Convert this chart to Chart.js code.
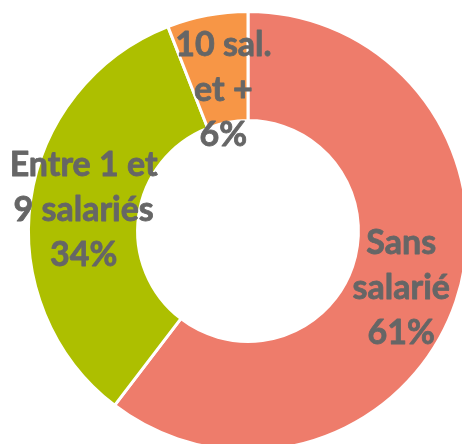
<!DOCTYPE html>
<html>
<head>
<meta charset="utf-8">
<script src="https://cdn.jsdelivr.net/npm/chart.js@4/dist/chart.umd.min.js"></script>
<style>
  html, body { margin: 0; padding: 0; width: 462px; height: 444px; overflow: hidden; background: #fff; }
  #wrap { position: absolute; left: 0; top: 0; width: 496px; height: 462px; }
</style>
</head>
<body>
<div id="wrap"><canvas id="c" width="496" height="462"></canvas></div>
<script>
const categories = ["Sans\nsalarié", "Entre 1 et\n9 salariés", "10 sal.\net +"];
const values = [61, 34, 6];
const percentLabels = ["61%", "34%", "6%"];
const colors = ["#EE7C6B", "#ADBF00", "#F79646"];

const labelPlugin = {
  id: 'sliceLabels',
  afterDatasetsDraw(chart, args, opts) {
    const ctx = chart.ctx;
    const meta = chart.getDatasetMeta(0);
    ctx.save();
    ctx.font = opts.font;
    ctx.fillStyle = opts.color;
    ctx.strokeStyle = opts.color;
    ctx.lineWidth = opts.strokeWidth;
    ctx.lineJoin = 'round';
    ctx.textAlign = 'center';
    ctx.textBaseline = 'alphabetic';
    meta.data.forEach((arc, i) => {
      const p = arc.tooltipPosition();
      const off = opts.offsets[i] || [0, 0];
      const lines = categories[i].split("\n").concat([percentLabels[i]]);
      const n = lines.length;
      lines.forEach((t, k) => {
        const y = p.y + off[1] + opts.capHalf + (k - (n - 1) / 2) * opts.lineHeight;
        ctx.fillText(t, p.x + off[0], y);
        ctx.strokeText(t, p.x + off[0], y);
      });
    });
    ctx.restore();
  }
};

new Chart(document.getElementById('c'), {
  type: 'doughnut',
  data: {
    labels: categories,
    datasets: [{
      data: values,
      backgroundColor: colors,
      borderColor: '#ffffff',
      borderWidth: 3,
      hoverOffset: 0
    }]
  },
  options: {
    responsive: false,
    animation: false,
    devicePixelRatio: 1,
    cutout: '50.3%',
    layout: { padding: { left: 27, right: 27, top: 10, bottom: 10 } },
    plugins: {
      legend: { display: false },
      tooltip: { enabled: false },
      sliceLabels: {
        font: 'bold 34px Lato',
        color: '#666666',
        strokeWidth: 0.8,
        lineHeight: 45,
        capHalf: 12,
        offsets: [[-3, 3], [-1, 1], [6, 20]]
      }
    }
  },
  plugins: [labelPlugin]
});
</script>
</body>
</html>
